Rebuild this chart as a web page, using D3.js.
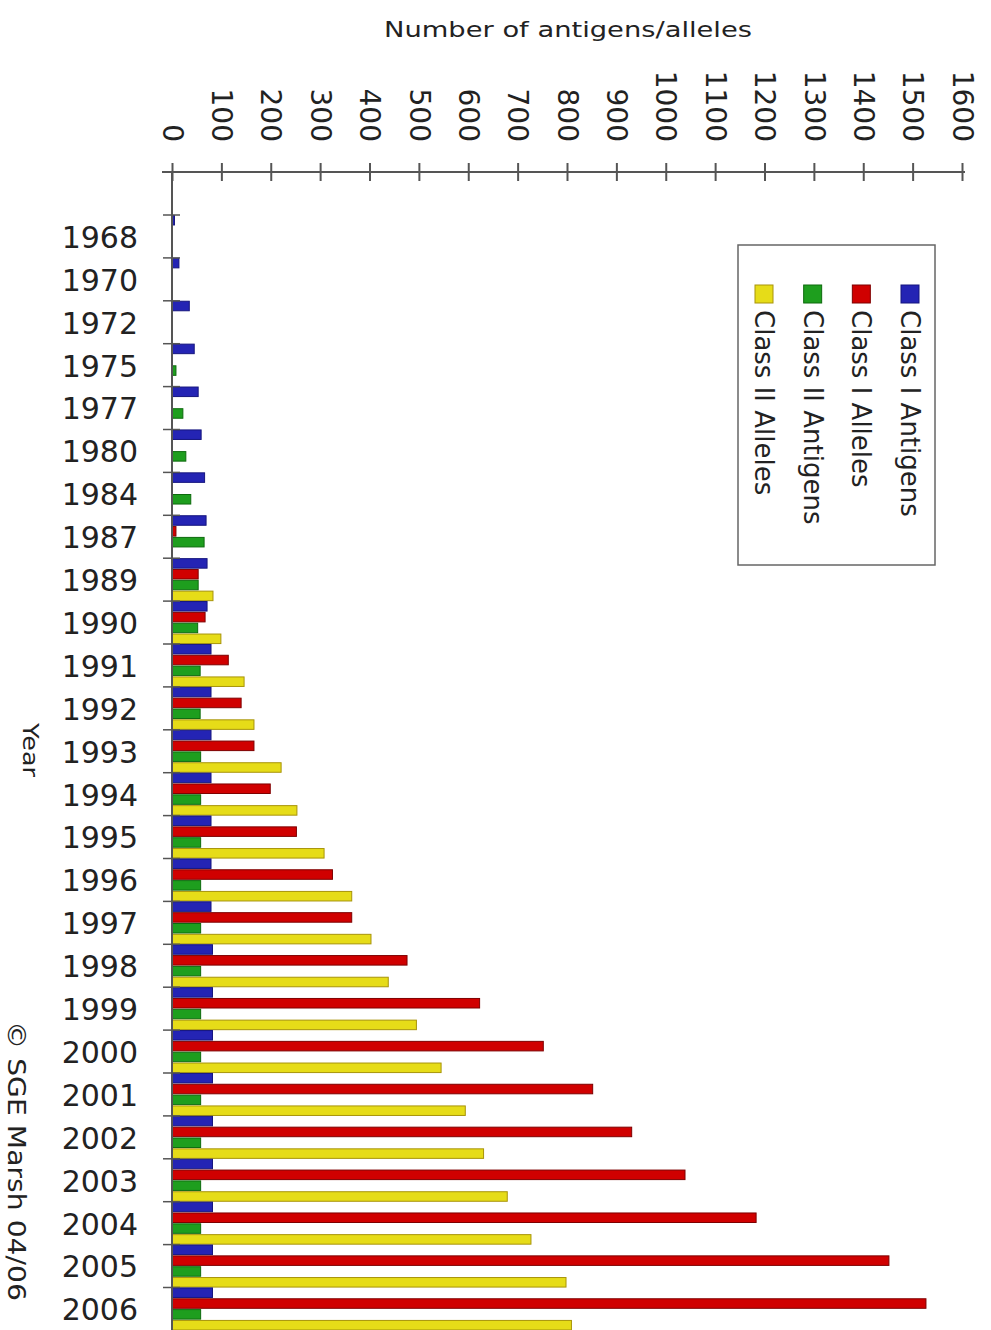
<!DOCTYPE html>
<html>
<head>
<meta charset="utf-8">
<script src="https://cdn.jsdelivr.net/npm/d3@7"></script>
<style>
  body { margin: 0; background: #fff; }
  text { font-family: "DejaVu Sans", Verdana, sans-serif; fill: #222; }
</style>
</head>
<body>
<div id="container"></div>
<script>
let w = 991;
let h = 1330;

// DATA
let years = [1968, 1970, 1972, 1975, 1977, 1980, 1984, 1987, 1989, 1990, 1991, 1992, 1993,
  1994, 1995, 1996, 1997, 1998, 1999, 2000, 2001, 2002, 2003, 2004, 2005, 2006];
let classIAntigens  = [5, 14, 35, 45, 53, 59, 66, 69, 71, 71, 79, 79, 79, 79, 79, 79, 79, 82, 82, 82, 82, 82, 82, 82, 82, 82];
let classIAlleles   = [0, 0, 0, 0, 0, 0, 0, 8, 53, 67, 114, 140, 166, 199, 252, 325, 364, 476, 623, 752, 852, 931, 1039, 1183, 1452, 1527];
let classIIAntigens = [0, 0, 0, 8, 22, 28, 38, 65, 53, 52, 57, 57, 58, 58, 58, 58, 58, 58, 58, 58, 58, 58, 58, 58, 58, 58];
let classIIAlleles  = [0, 0, 0, 0, 0, 0, 0, 0, 83, 99, 146, 166, 221, 253, 308, 364, 403, 438, 495, 545, 594, 631, 679, 727, 798, 809];
let seriesNames = ["Class I Antigens", "Class I Alleles", "Class II Antigens", "Class II Alleles"];
let xTicks = [0, 100, 200, 300, 400, 500, 600, 700, 800, 900, 1000, 1100, 1200, 1300, 1400, 1500, 1600];

let fills   = ["#2424b4", "#d00000", "#1e9e1e", "#e6dc18"];
let strokes = ["#15157e", "#7e0000", "#0d6a0d", "#a8940a"];

let seriesValues = [classIAntigens, classIAlleles, classIIAntigens, classIIAlleles];

let viz = d3.select("#container").append("svg")
    .attr("width", w)
    .attr("height", h)
    .style("background-color", "white");

// SCALES
let xScale = d3.scaleLinear().domain([0, 1600]).range([172, 962]);
let yScale = d3.scaleBand().domain(years).range([215, 215 + 26 * 42.9]).padding(0);
let subScale = d3.scaleBand().domain(seriesNames).range([0, yScale.bandwidth()])
    .paddingInner(0.12).paddingOuter(0.04);

// BARS
let rows = [];
years.forEach(function(yr, i) {
  seriesNames.forEach(function(s, j) {
    rows.push({ year: yr, series: s, idx: j, value: seriesValues[j][i] });
  });
});

viz.selectAll(".bar").data(rows.filter(function(d) { return d.value > 0; })).enter()
  .append("rect")
    .attr("class", "bar")
    .attr("x", xScale(0))
    .attr("y", function(d) { return yScale(d.year) + subScale(d.series); })
    .attr("width", function(d) { return xScale(d.value) - xScale(0); })
    .attr("height", subScale.bandwidth())
    .attr("fill", function(d) { return fills[d.idx]; })
    .attr("stroke", function(d) { return strokes[d.idx]; })
    .attr("stroke-width", 1);

// TOP (value) AXIS
let axisY = 172;
let xAxis = d3.axisTop(xScale).tickValues(xTicks).tickFormat(d3.format("d"))
    .tickSizeOuter(0).tickSize(9);
let xAxisG = viz.append("g").attr("transform", "translate(0," + axisY + ")").call(xAxis);
xAxisG.select(".domain").remove();
xAxisG.selectAll(".tick line")
    .attr("y1", -9).attr("y2", 9)
    .attr("stroke", "#555").attr("stroke-width", 2);
xAxisG.selectAll(".tick text")
    .attr("x", 0).attr("y", 0).attr("dy", "0.35em")
    .attr("text-anchor", "end")
    .attr("transform", "translate(0,-30) rotate(90)")
    .style("font-size", "28px")
    .style("font-family", "DejaVu Sans")
    .attr("fill", "#222");
viz.append("line")
    .attr("x1", 162).attr("x2", 965).attr("y1", axisY).attr("y2", axisY)
    .attr("stroke", "#555").attr("stroke-width", 2);

// LEFT (year) AXIS
let yAxis = d3.axisLeft(yScale).tickSize(0).tickPadding(34);
let yAxisG = viz.append("g").attr("transform", "translate(" + xScale(0) + ",0)").call(yAxis);
yAxisG.select(".domain").remove();
yAxisG.selectAll(".tick text")
    .attr("dy", "0.38em")
    .style("font-size", "30px")
    .style("font-family", "DejaVu Sans")
    .attr("fill", "#222");
viz.append("line")
    .attr("x1", xScale(0)).attr("x2", xScale(0)).attr("y1", axisY).attr("y2", h)
    .attr("stroke", "#555").attr("stroke-width", 2);
viz.selectAll(".ytick").data(years).enter()
  .append("line")
    .attr("class", "ytick")
    .attr("x1", xScale(0) - 9).attr("x2", xScale(0) + 8)
    .attr("y1", function(d) { return yScale(d); })
    .attr("y2", function(d) { return yScale(d); })
    .attr("stroke", "#555").attr("stroke-width", 1.5);

// TITLES
viz.append("text")
    .attr("x", 568).attr("y", 37)
    .attr("text-anchor", "middle")
    .attr("textLength", 368).attr("lengthAdjust", "spacingAndGlyphs")
    .style("font-size", "22px")
    .text("Number of antigens/alleles");

viz.append("text")
    .attr("text-anchor", "middle").attr("dy", "0.35em")
    .attr("transform", "translate(30,750) rotate(90)")
    .attr("textLength", 54).attr("lengthAdjust", "spacingAndGlyphs")
    .style("font-size", "21px")
    .text("Year");

viz.append("text")
    .attr("text-anchor", "middle").attr("dy", "0.35em")
    .attr("transform", "translate(17,1161) rotate(90)")
    .attr("textLength", 280).attr("lengthAdjust", "spacingAndGlyphs")
    .style("font-size", "25px")
    .text("\u00A9 SGE Marsh 04/06");

// LEGEND
let legend = viz.append("g");
legend.append("rect")
    .attr("x", 738).attr("y", 245).attr("width", 197).attr("height", 320)
    .attr("fill", "white").attr("stroke", "#666").attr("stroke-width", 1.5);
let legendX = d3.scalePoint().domain(seriesNames).range([910, 764]);
let legendItems = legend.selectAll(".leg").data(seriesNames).enter()
  .append("g").attr("class", "leg");
legendItems.append("rect")
    .attr("x", function(d) { return legendX(d) - 9; })
    .attr("y", 285)
    .attr("width", 18).attr("height", 18)
    .attr("fill", function(d, i) { return fills[i]; })
    .attr("stroke", function(d, i) { return strokes[i]; });
legendItems.append("text")
    .attr("text-anchor", "start").attr("dy", "0.35em")
    .attr("transform", function(d) { return "translate(" + legendX(d) + ",310) rotate(90)"; })
    .style("font-size", "26px")
    .text(function(d) { return d; });
</script>
</body>
</html>
